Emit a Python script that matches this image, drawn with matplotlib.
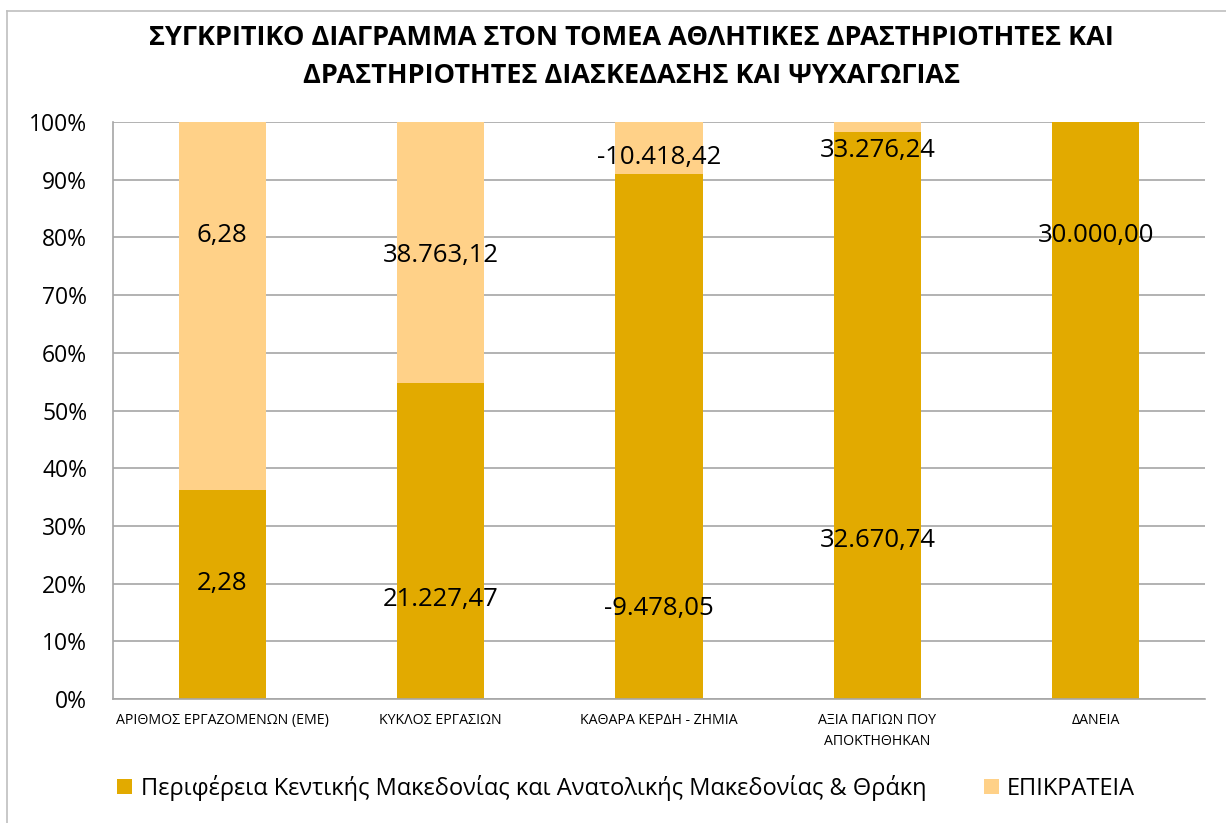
import numpy as np
import matplotlib
matplotlib.use('Agg')
import matplotlib.pyplot as plt
from matplotlib.lines import Line2D

plt.rcParams['font.family'] = ['Open Sans', 'DejaVu Sans']

# Κατηγορίες και τιμές
categories = ['ΑΡΙΘΜΟΣ ΕΡΓΑΖΟΜΕΝΩΝ (ΕΜΕ)', 'ΚΥΚΛΟΣ ΕΡΓΑΣΙΩΝ', 'ΚΑΘΑΡΑ ΚΕΡΔΗ - ΖΗΜΙΑ',
              'ΑΞΙΑ ΠΑΓΙΩΝ ΠΟΥ\nΑΠΟΚΤΗΘΗΚΑΝ', 'ΔΑΝΕΙΑ']
region_values = [2.28, 21227.47, -9478.05, 32670.74, 30000.00]
state_values = [6.28, 38763.12, -10418.42, 33276.24, 30000.00]
region_labels = ['2,28', '21.227,47', '-9.478,05', '32.670,74', '30.000,00']
state_labels = ['6,28', '38.763,12', '-10.418,42', '33.276,24', '']

region_name = 'Περιφέρεια Κεντικής Μακεδονίας και Ανατολικής Μακεδονίας & Θράκη'
state_name = 'ΕΠΙΚΡΑΤΕΙΑ'

# θέσεις ετικετών (ποσοστό άξονα), όπως στο πρωτότυπο
region_label_y = [0.201, 0.173, 0.156, 0.274, 0.804]
state_label_y = [0.804, 0.768, 0.938, 0.951, None]

dark = '#E2AA00'
light = '#FFD188'

region_share = np.array(region_values) / np.array(state_values)
rest_share = 1 - region_share

fig = plt.figure(figsize=(12.26, 8.23), dpi=100)
ax = fig.add_axes([113 / 1226, 1 - 699 / 823, 1092 / 1226, 577 / 823])

x = np.arange(len(categories))
ax.bar(x, region_share, width=0.4, color=dark, label=region_name, zorder=2)
ax.bar(x, rest_share, width=0.4, bottom=region_share, color=light, label=state_name, zorder=2)

for i in range(len(categories)):
    ax.text(x[i], region_label_y[i], region_labels[i], ha='center', va='center',
            fontsize=18.5, zorder=3)
    if state_label_y[i] is not None:
        ax.text(x[i], state_label_y[i], state_labels[i], ha='center', va='center',
                fontsize=18.5, zorder=3)

ax.set_xlim(-0.5, len(categories) - 0.5)
ax.set_ylim(0, 1)
ax.set_yticks(np.arange(0, 1.01, 0.1))
ax.set_yticklabels([f'{int(round(v * 100))}%' for v in np.arange(0, 1.01, 0.1)], fontsize=16.5)
ax.set_xticks(x)
ax.set_xticklabels(categories, fontsize=10.2, linespacing=1.6)
ax.tick_params(axis='both', length=0)
ax.tick_params(axis='y', pad=18.5)
ax.tick_params(axis='x', pad=10)
ax.grid(axis='y', color='#A6A6A6', linewidth=1.2, zorder=0)
for s in ['top', 'right']:
    ax.spines[s].set_visible(False)
for s in ['left', 'bottom']:
    ax.spines[s].set_color('#A6A6A6')
    ax.spines[s].set_linewidth(1.2)

fig.text(0.515, 1 - 57 / 823,
         'ΣΥΓΚΡΙΤΙΚΟ ΔΙΑΓΡΑΜΜΑ ΣΤΟΝ ΤΟΜΕΑ ΑΘΛΗΤΙΚΕΣ ΔΡΑΣΤΗΡΙΟΤΗΤΕΣ ΚΑΙ\nΔΡΑΣΤΗΡΙΟΤΗΤΕΣ ΔΙΑΣΚΕΔΑΣΗΣ ΚΑΙ ΨΥΧΑΓΩΓΙΑΣ',
         ha='center', va='center', fontsize=19.5, fontweight='bold', linespacing=1.6)

ax.legend(loc='center', bbox_to_anchor=(0.47, (699 - 788) / 577), ncol=2, frameon=False,
          fontsize=17, handlelength=0.63, handleheight=0.63, columnspacing=2.45, handletextpad=0.35)

# περίγραμμα γραφήματος
fig.add_artist(Line2D([7 / 1226, 7 / 1226], [0, 1 - 11 / 823], color='#BFBFBF', linewidth=1.2))
fig.add_artist(Line2D([7 / 1226, 1], [1 - 11 / 823, 1 - 11 / 823], color='#BFBFBF', linewidth=1.2))

fig.savefig('out.png', dpi=100)
